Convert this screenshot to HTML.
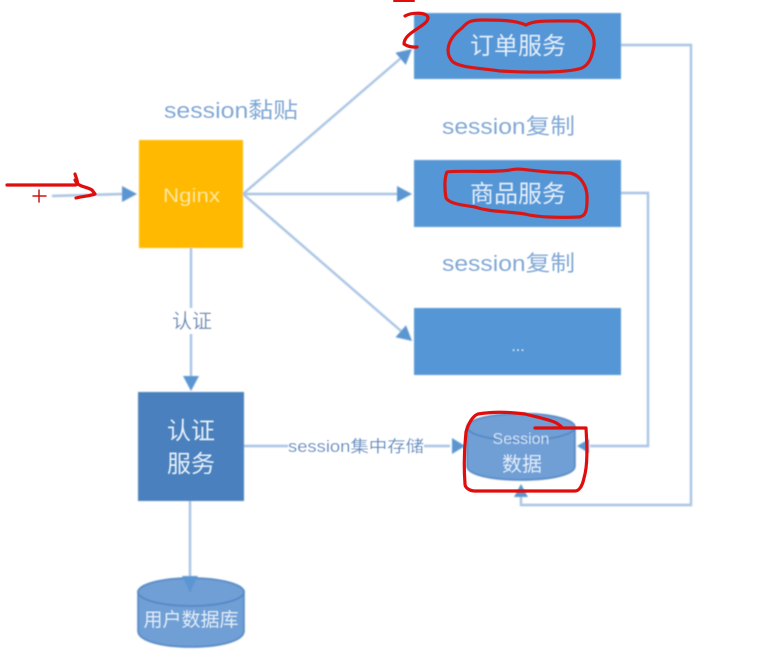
<!DOCTYPE html>
<html>
<head>
<meta charset="utf-8">
<style>
html,body{margin:0;padding:0;background:#fff;width:760px;height:663px;overflow:hidden}
svg{display:block}
text{font-family:"Liberation Sans","Noto Sans CJK SC",sans-serif}
</style>
</head>
<body>
<svg width="760" height="663" viewBox="0 0 760 663" xmlns="http://www.w3.org/2000/svg">
<defs>
<filter id="b" x="-5%" y="-5%" width="110%" height="110%"><feGaussianBlur stdDeviation="0.7"/></filter>
<filter id="t" x="-5%" y="-20%" width="110%" height="140%"><feGaussianBlur stdDeviation="0.55"/></filter>
<filter id="r" x="-5%" y="-5%" width="110%" height="110%"><feGaussianBlur stdDeviation="0.35"/></filter>
</defs>
<rect width="760" height="663" fill="#fff"/>
<g filter="url(#b)">
  <!-- connectors -->
  <g fill="none" stroke="#a9c4e4" stroke-width="2.4">
    <path d="M52 196L122 194"/>
    <path d="M243 194L401 58"/>
    <path d="M243 194H398"/>
    <path d="M243 194L401 331"/>
    <path d="M191 248V378"/>
    <path d="M190 501V578"/>
    <path d="M244 446H450"/>
    <path d="M621 45H691V505H521V490"/>
    <path d="M621 193H648V446H590"/>
  </g>
  <!-- arrowheads -->
  <g fill="#5b96d2">
    <path d="M137 194L122 186V202Z"/>
    <path d="M412 49L395.4 52.7L405.8 64.9Z"/>
    <path d="M412 194L397 186V202Z"/>
    <path d="M412 341L406 325.2L395.5 337.2Z"/>
    <path d="M191 391L183 376H199Z"/>
    <path d="M465 446L452 438V454Z"/>
    <path d="M577 446L589 439V453Z"/>
    <path d="M521 484L514 497H528Z"/>
  </g>
  <!-- boxes -->
  <rect x="139" y="140" width="104" height="108" fill="#ffb900"/>
  <rect x="414" y="13" width="207" height="66" fill="#5496d6"/>
  <rect x="414" y="160" width="207" height="67" fill="#5496d6"/>
  <rect x="414" y="308" width="207" height="67" fill="#5496d6"/>
  <rect x="138" y="392" width="106" height="109" fill="#4a80bd"/>
  <!-- user db cylinder -->
  <path d="M138 591V631C138 641 162 647 191 647C220 647 244 641 244 631V591Z" fill="#6f9fd6" stroke="#4f83bf" stroke-width="1.5"/>
  <ellipse cx="191" cy="592" rx="53" ry="14" fill="#6f9fd6" stroke="#4f83bf" stroke-width="1.5"/>
  <path d="M190 578V592" stroke="#5b96d2" stroke-width="3"/>
  <path d="M190 592L182 576H198Z" fill="#5b96d2"/>
  <!-- session cylinder -->
  <path d="M467 427V466C467 475 492 480 521 480C550 480 575 475 575 466V427Z" fill="#6f9fd6" stroke="#4f83bf" stroke-width="1.5"/>
  <ellipse cx="521" cy="427" rx="54" ry="13.5" fill="#6f9fd6" stroke="#4f83bf" stroke-width="1.5"/>
</g>
<!-- labels -->
<g filter="url(#t)">
  <g fill="#83a9d6" font-size="22">
    <text x="164" y="118" textLength="134" lengthAdjust="spacingAndGlyphs">session黏贴</text>
    <text x="442" y="134" textLength="133" lengthAdjust="spacingAndGlyphs">session复制</text>
    <text x="442" y="271" textLength="133" lengthAdjust="spacingAndGlyphs">session复制</text>
  </g>
  <text x="163" y="202" fill="#ffe6a0" font-size="19" textLength="57" lengthAdjust="spacingAndGlyphs">Nginx</text>
  <g fill="#e6eff9" text-anchor="middle">
    <text x="518" y="54" font-size="24">订单服务</text>
    <text x="518" y="202" font-size="24">商品服务</text>
    <text x="518" y="351" font-size="16">...</text>
    <text x="191" y="439" font-size="24">认证</text>
    <text x="191" y="472" font-size="24">服务</text>
  </g>
  <rect x="170" y="308" width="44" height="26" fill="#fff"/>
  <text x="192" y="328" fill="#6d8fb8" font-size="20" text-anchor="middle">认证</text>
  <rect x="288" y="436" width="136" height="20" fill="#fff"/>
  <text x="288" y="452" fill="#5f8fc4" font-size="16.5" textLength="136" lengthAdjust="spacingAndGlyphs">session集中存储</text>
  <text x="191" y="626" fill="#e3edf8" font-size="19" text-anchor="middle">用户数据库</text>
  <text x="521" y="444" fill="#d5e3f4" font-size="16" text-anchor="middle">Session</text>
  <text x="522" y="471" fill="#e3edf8" font-size="20" text-anchor="middle">数据</text>
</g>
<!-- red annotations -->
<g fill="none" stroke="#e01010" stroke-linecap="round" stroke-linejoin="round" filter="url(#r)">
  <path d="M7 185H75C80 185 76 178 75 174M75 180C78 187 85 186 92 190L95 194C90 196 84 196 76 198" stroke-width="3.2"/>
  <path d="M33 196H46M39 190V202" stroke-width="1.5" stroke="#c81818"/>
  <path d="M405 16C412 12 428 12 428 18C428 26 404 32 404 44C410 48 416 47 417 47" stroke-width="3.2"/>
  <path d="M394 1H414" stroke-width="2"/>
  <path d="M462 28C468 21 472 20 482 20C500 20 514 20 526 25C534 20 548 21 578 21C590 25 595 36 594 46C592 56 590 64 582 68C570 72 540 73 500 71C480 68 462 68 453 62C445 54 446 40 462 28Z" stroke-width="3.2" stroke="#d81818"/>
  <path d="M447 172C455 170 490 173 510 170C522 167 528 172 570 173C580 175 588 186 587 200C587 210 586 217 578 217C560 218 535 217 525 214C505 211 490 212 475 207C462 205 450 204 446 198C444 186 445 176 447 172Z" stroke-width="3.2" stroke="#d81818"/>
  <path d="M478 414C495 411 510 412 525 414C540 418 552 420 558 424C562 428 570 428 535 428H586C587 445 588 465 584 478C582 488 578 491 575 491H475C470 491 465 488 465 484C464 470 464 450 466 432C468 425 472 416 478 414Z" stroke-width="3.2"/>
</g>
</svg>
</body>
</html>
